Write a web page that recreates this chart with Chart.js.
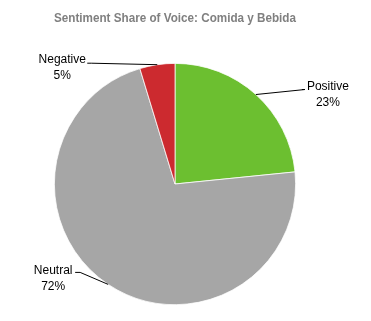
<!DOCTYPE html>
<html>
<head>
<meta charset="utf-8">
<script src="https://cdn.jsdelivr.net/npm/chart.js"></script>
<style>
html,body{margin:0;padding:0;background:#fff;}
#wrap{width:371px;height:321px;}
</style>
</head>
<body>
<div id="wrap"><canvas id="c" width="371" height="321"></canvas></div>
<script>
const categories = ["Positive", "Neutral", "Negative"];
const values = [23.4, 71.9, 4.7];
const percentLabels = ["23%", "72%", "5%"];
const colors = ["#6CBF30", "#A6A6A6", "#CC2A2F"];
const titleText = "Sentiment Share of Voice: Comida y Bebida";

// label placement relative to the slice's outer edge point at mid-angle
const labelLayout = {
  Positive: {tx: 72, ty: -8, lx: 49, ly: -5, ex: 46},
  Neutral:  {tx: -55, ty: -14, lx: -28, ly: -12, ex: -33},
  Negative: {tx: -95, ty: -5, lx: -66, ly: -1.5, ex: -70}
};

const leaderPlugin = {
  id: 'leaders',
  afterDatasetsDraw(chart) {
    const ctx = chart.ctx;
    const meta = chart.getDatasetMeta(0);
    ctx.save();
    meta.data.forEach((arc, i) => {
      const p = arc.getProps(['x','y','startAngle','endAngle','outerRadius'], true);
      const mid = (p.startAngle + p.endAngle) / 2;
      const ex = p.x + Math.cos(mid) * p.outerRadius;
      const ey = p.y + Math.sin(mid) * p.outerRadius;
      const L = labelLayout[categories[i]];
      ctx.strokeStyle = '#000';
      ctx.lineWidth = 1;
      ctx.beginPath();
      ctx.moveTo(ex, ey);
      ctx.lineTo(ex + L.lx, ey + L.ly);
      ctx.lineTo(ex + L.ex, ey + L.ly);
      ctx.stroke();
      ctx.fillStyle = '#000';
      ctx.font = '12px "Liberation Sans", Arial, sans-serif';
      ctx.textAlign = 'center';
      ctx.textBaseline = 'middle';
      ctx.fillText(categories[i], ex + L.tx, ey + L.ty);
      ctx.fillText(percentLabels[i], ex + L.tx, ey + L.ty + 16);
    });
    ctx.restore();
  }
};

new Chart(document.getElementById('c'), {
  type: 'pie',
  data: {
    labels: categories,
    datasets: [{
      data: values,
      backgroundColor: colors,
      borderColor: '#ffffff',
      borderWidth: 0.75
    }]
  },
  options: {
    responsive: false,
    animation: false,
    layout: {padding: {left: 54, right: 75, top: 0, bottom: 16}},
    plugins: {
      legend: {display: false},
      tooltip: {enabled: false},
      title: {
        display: true,
        text: titleText,
        color: '#808080',
        font: {family: '"Liberation Sans", Arial, sans-serif', size: 12, weight: 'bold'},
        padding: {top: 11, bottom: 37.6}
      }
    }
  },
  plugins: [leaderPlugin]
});
</script>
</body>
</html>
